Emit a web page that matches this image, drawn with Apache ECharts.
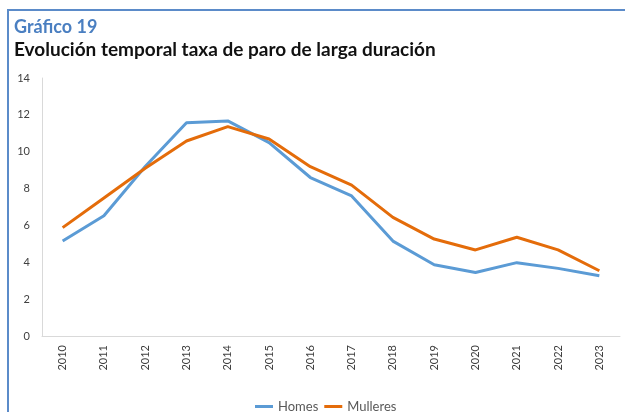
<!DOCTYPE html>
<html>
<head>
<meta charset="utf-8">
<script src="https://cdn.jsdelivr.net/npm/echarts@6/dist/echarts.min.js"></script>
<style>
  html, body { margin: 0; padding: 0; background: #fff; }
  #frame { position: absolute; left: 7px; top: 9px; width: 640px; height: 420px;
           border-top: 2px solid #5b8bc9; border-left: 2px solid #5b8bc9; }
  #main { position: absolute; left: 0; top: 0; width: 625px; height: 412px; }
</style>
</head>
<body>
<div id="frame"></div>
<div id="main"></div>
<script>
var chart = echarts.init(document.getElementById('main'));

var anos = ['2010', '2011', '2012', '2013', '2014', '2015', '2016',
            '2017', '2018', '2019', '2020', '2021', '2022', '2023']
var homes = [5.15, 6.53, 9.2, 11.57, 11.67, 10.49, 8.6, 7.6, 5.15, 3.87, 3.45, 3.98, 3.67, 3.27]
var mulleres = [5.88, 7.49, 9.1, 10.58, 11.36, 10.69, 9.19, 8.19, 6.44, 5.26, 4.67, 5.36, 4.67, 3.54]

var axisText = { color: '#404040', fontSize: 11, fontFamily: 'Lato' }

chart.setOption({
    backgroundColor: 'transparent',
    title: [{
        text: 'Gráfico 19',
        left: 9,
        top: 13,
        textStyle: { color: '#4a7fc1', fontSize: 18, fontWeight: 'bold', fontFamily: 'Lato' }
    }, {
        text: 'Evolución temporal taxa de paro de larga duración',
        left: 9,
        top: 35,
        textStyle: { color: '#111', fontSize: 19, fontWeight: 'bold', fontFamily: 'Lato' }
    }],
    grid: { left: 42, right: 5, top: 78, bottom: 76 },
    legend: {
        bottom: -6,
        left: 250,
        icon: 'rect',
        itemWidth: 18,
        itemHeight: 3,
        itemGap: 6,
        textStyle: { color: '#595959', fontSize: 13, fontFamily: 'Lato' },
        data: ['Homes', 'Mulleres']
    },
    xAxis: {
        type: 'category',
        data: anos,
        boundaryGap: true,
        axisLine: { lineStyle: { color: '#d9d9d9' } },
        axisTick: { show: false },
        axisLabel: Object.assign({ rotate: 90, margin: 9 }, axisText)
    },
    yAxis: {
        type: 'value',
        min: 0,
        max: 14,
        interval: 2,
        axisLine: { show: true, lineStyle: { color: '#d9d9d9' } },
        axisTick: { show: false },
        splitLine: { show: false },
        axisLabel: Object.assign({ margin: 12 }, axisText)
    },
    series: [{
        name: 'Homes',
        type: 'line',
        data: homes,
        symbol: 'none',
        color: '#5b9bd5',
        lineStyle: { width: 3, color: '#5b9bd5' }
    }, {
        name: 'Mulleres',
        type: 'line',
        data: mulleres,
        symbol: 'none',
        color: '#e46c0a',
        lineStyle: { width: 3, color: '#e46c0a' }
    }]
});
</script>
</body>
</html>
